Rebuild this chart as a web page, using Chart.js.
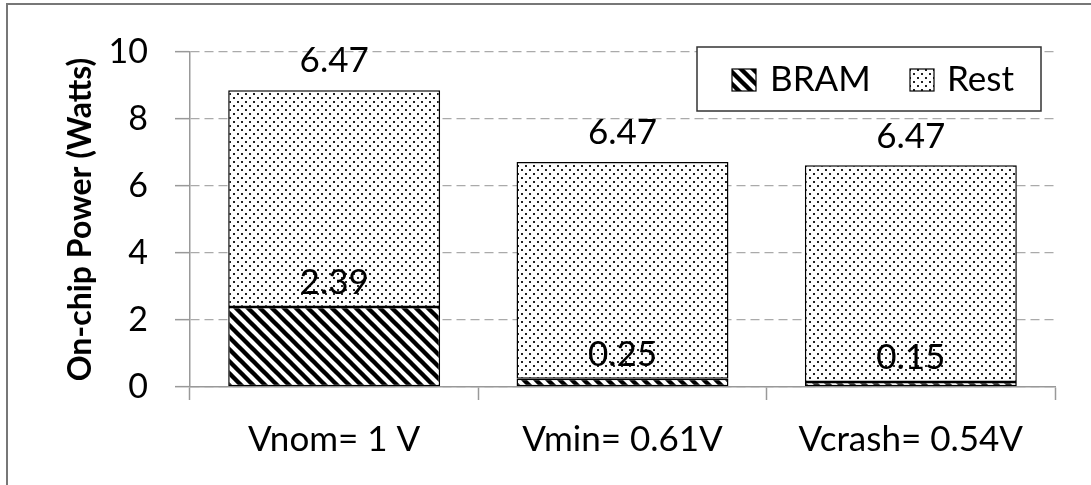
<!DOCTYPE html>
<html><head><meta charset="utf-8">
<script src="https://cdn.jsdelivr.net/npm/chart.js@4.4.0/dist/chart.umd.min.js"></script>
<style>html,body{margin:0;padding:0;background:#fff;overflow:hidden;}#wrap{width:1091px;height:485px;}</style>
</head><body><div id="wrap"><canvas id="c" width="1091" height="485"></canvas></div>
<script>
const categories = ['Vnom= 1 V', 'Vmin= 0.61V', 'Vcrash= 0.54V'];
const bramValues = [2.39, 0.25, 0.15];
const restValues = [6.47, 6.47, 6.47];
const seriesNames = ['BRAM', 'Rest'];
const yTicks = [0, 2, 4, 6, 8, 10];

function stripePattern() {
  const s = 12, c = document.createElement('canvas');
  c.width = s; c.height = s;
  const g = c.getContext('2d');
  g.fillStyle = '#fff'; g.fillRect(0, 0, s, s);
  g.strokeStyle = '#000'; g.lineWidth = 4.4;
  for (let k = -1; k <= 1; k++) {
    g.beginPath(); g.moveTo(k * s - 2, -2); g.lineTo(k * s + s + 2, s + 2); g.stroke();
  }
  return g.createPattern(c, 'repeat');
}
function dotPattern() {
  const s = 8, c = document.createElement('canvas');
  c.width = s; c.height = s;
  const g = c.getContext('2d');
  g.fillStyle = '#fff'; g.fillRect(0, 0, s, s);
  g.fillStyle = '#222';
  g.fillRect(1, 1, 2, 2); g.fillRect(5, 5, 2, 2);
  return g.createPattern(c, 'repeat');
}
const FONT = 'Lato, "Open Sans", sans-serif';

const bgPlugin = {
  id: 'bg',
  beforeDraw(chart) {
    const ctx = chart.ctx;
    ctx.save();
    ctx.fillStyle = '#fff'; ctx.fillRect(0, 0, chart.width, chart.height);
    ctx.strokeStyle = '#777'; ctx.lineWidth = 2;
    ctx.beginPath(); ctx.moveTo(7, chart.height); ctx.lineTo(7, 4); ctx.lineTo(chart.width, 4); ctx.stroke();
    ctx.restore();
  }
};

const labelPlugin = {
  id: 'valueLabels',
  afterDatasetsDraw(chart) {
    const ctx = chart.ctx;
    ctx.save();
    ctx.font = '35px ' + FONT;
    ctx.fillStyle = '#000';
    ctx.textAlign = 'center';
    ctx.textBaseline = 'middle';
    chart.data.datasets.forEach((ds, di) => {
      const meta = chart.getDatasetMeta(di);
      const gap = di === 0 ? 24 : 29;
      meta.data.forEach((bar, i) => {
        ctx.fillText(ds.data[i].toFixed(2), bar.x, bar.y - gap);
      });
    });
    ctx.restore();
  }
};

const legendPlugin = {
  id: 'boxLegend',
  afterDraw(chart) {
    const ctx = chart.ctx, a = chart.chartArea;
    const x0 = a.right - 358, y0 = a.top - 5, w = 344, h = 64;
    ctx.save();
    ctx.fillStyle = '#fff'; ctx.fillRect(x0, y0, w, h);
    ctx.strokeStyle = '#333'; ctx.lineWidth = 1.5; ctx.strokeRect(x0, y0, w, h);
    ctx.font = '35px ' + FONT; ctx.textBaseline = 'middle'; ctx.textAlign = 'left'; ctx.fillStyle = '#000';
    const items = [{sx: x0 + 35, tx: x0 + 73}, {sx: x0 + 213, tx: x0 + 250}];
    chart.data.datasets.forEach((ds, i) => {
      const it = items[i];
      ctx.fillStyle = ds.backgroundColor;
      ctx.fillRect(it.sx, y0 + 22, 24, 22);
      ctx.strokeStyle = '#000'; ctx.lineWidth = 1.2; ctx.strokeRect(it.sx, y0 + 22, 24, 22);
      ctx.fillStyle = '#000';
      ctx.fillText(ds.label, it.tx, y0 + 33);
    });
    ctx.restore();
  }
};

new Chart(document.getElementById('c'), {
  type: 'bar',
  data: {
    labels: categories,
    datasets: [
      {label: seriesNames[0], data: bramValues, backgroundColor: stripePattern(), borderColor: '#000', borderWidth: 1.5, borderSkipped: false},
      {label: seriesNames[1], data: restValues, backgroundColor: dotPattern(), borderColor: '#000', borderWidth: 1.5, borderSkipped: false}
    ]
  },
  options: {
    responsive: false,
    animation: false,
    devicePixelRatio: 1,
    datasets: {bar: {barPercentage: 0.735, categoryPercentage: 1}},
    layout: {padding: {left: 0, right: 36, top: 52, bottom: 0}},
    plugins: {legend: {display: false}, tooltip: {enabled: false}},
    scales: {
      x: {
        stacked: true,
        grid: {display: true, drawOnChartArea: false, drawTicks: true, tickLength: 13, tickColor: '#999', tickWidth: 1.5, offset: true},
        border: {display: true, color: '#999', width: 1.5},
        ticks: {color: '#000', font: {family: FONT, size: 35}, padding: 19, maxRotation: 0},
        afterFit(s) { s.height = 98; }
      },
      y: {
        stacked: true,
        min: yTicks[0], max: yTicks[yTicks.length - 1],
        afterBuildTicks(s) { s.ticks = yTicks.map(v => ({value: v})); },
        grid: {color: '#aaa', lineWidth: 1.3, drawTicks: true, tickLength: 15, tickColor: '#999', tickWidth: 1.5, tickBorderDash: []},
        border: {display: true, color: '#999', width: 1.5, dash: [9, 5]},
        ticks: {color: '#000', font: {family: FONT, size: 34}, padding: 27},
        title: {display: true, text: 'On-chip Power (Watts)', color: '#000', font: {family: FONT, size: 32, weight: 'bold'}, padding: {top: 61, bottom: 0}},
        afterFit(s) { s.width = 190; }
      }
    }
  },
  plugins: [bgPlugin, labelPlugin, legendPlugin]
});
</script></body></html>
